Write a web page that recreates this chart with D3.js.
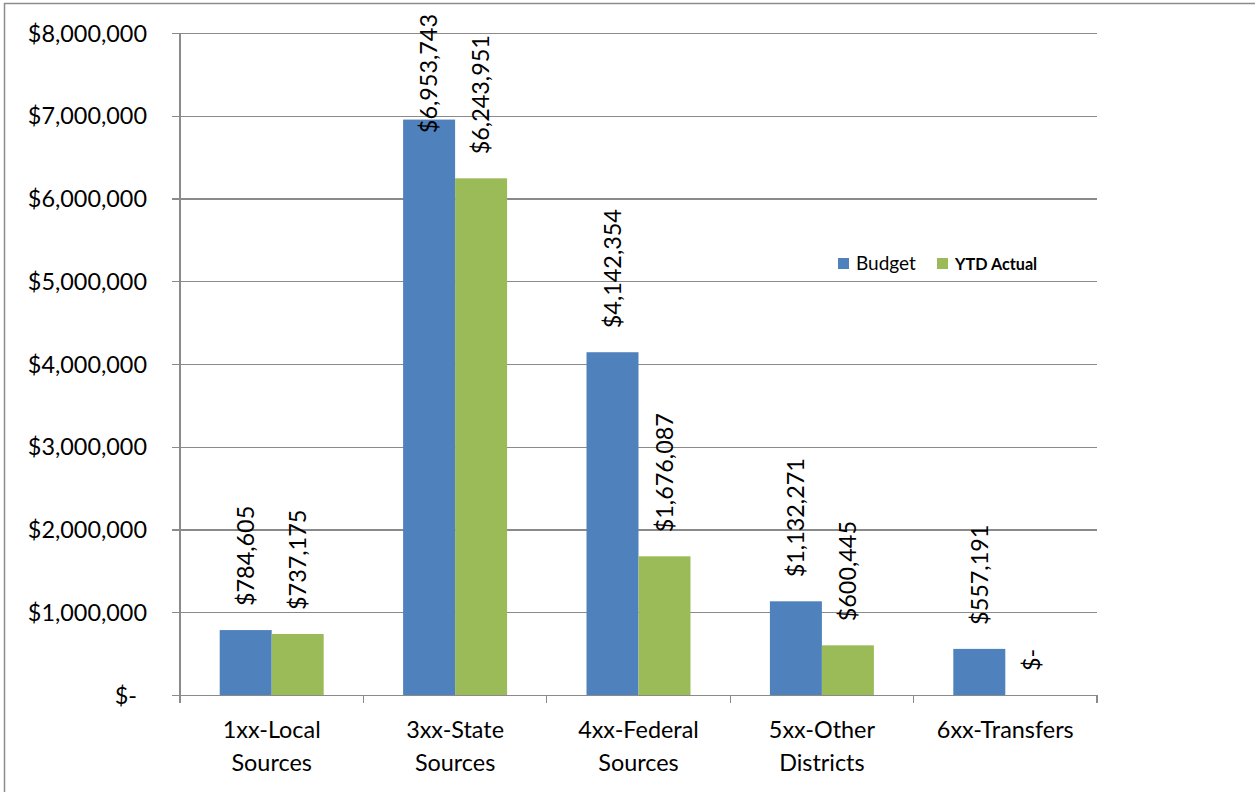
<!DOCTYPE html>
<html>
<head>
<meta charset="utf-8">
<script src="https://cdn.jsdelivr.net/npm/d3@7"></script>
<style>
  html, body { margin: 0; padding: 0; background: #fff; }
  svg { display: block; }
  text { font-family: Lato, "Open Sans", sans-serif; fill: #000; }
</style>
</head>
<body>
<svg id="chart" width="1255" height="792"></svg>
<script>
// Revenue by source: budget vs. year-to-date actual
const categories = [
  ["1xx-Local", "Sources"],
  ["3xx-State", "Sources"],
  ["4xx-Federal", "Sources"],
  ["5xx-Other", "Districts"],
  ["6xx-Transfers"]
];
const seriesNames = ["Budget", "YTD Actual"];
const budget = [784605, 6953743, 4142354, 1132271, 557191];
const ytdActual = [737175, 6243951, 1676087, 600445, 0];
const yTicks = [0, 1000000, 2000000, 3000000, 4000000, 5000000, 6000000, 7000000, 8000000];

const colors = ["#4F81BD", "#9BBB59"];
const gridColor = "#8a8a8a";

const svg = d3.select("#chart");
const W = 1255, H = 792;
const plot = { left: 180, right: 1097, top: 33, bottom: 695 };

// outer chart frame
svg.append("rect")
  .attr("x", 4.5).attr("y", 3.5)
  .attr("width", W + 20).attr("height", H + 20)
  .attr("fill", "none").attr("stroke", "#8c8c8c").attr("stroke-width", 1.5);

const idx = d3.range(categories.length);
const x0 = d3.scaleBand()
  .domain(idx)
  .range([plot.left, plot.right])
  .paddingInner(0.433)
  .paddingOuter(0.2165);
const x1 = d3.scaleBand()
  .domain(seriesNames)
  .range([0, x0.bandwidth()]);
const y = d3.scaleLinear()
  .domain([0, 8000000])
  .range([plot.bottom, plot.top]);

const fmt = v => v === 0 ? "$-" : "$" + d3.format(",")(v);

// horizontal gridlines + y-axis tick labels
const yAxis = d3.axisLeft(y)
  .tickValues(yTicks)
  .tickSize(-(plot.right - plot.left))
  .tickPadding(0)
  .tickFormat(fmt);
const gy = svg.append("g")
  .attr("transform", `translate(${plot.left},0)`)
  .call(yAxis);
gy.select(".domain").remove();
gy.selectAll(".tick line")
  .attr("x1", -8)
  .attr("stroke", gridColor)
  .attr("stroke-width", 1.3)
  .attr("shape-rendering", "crispEdges");
gy.selectAll(".tick text")
  .attr("x", d => d === 0 ? -43 : -33)
  .attr("dy", "0.35em")
  .style("font-family", "Lato, sans-serif")
  .style("font-size", "23.4px")
  .attr("fill", "#000");

// vertical y axis line
svg.append("line")
  .attr("x1", plot.left).attr("x2", plot.left)
  .attr("y1", plot.top).attr("y2", plot.bottom)
  .attr("stroke", gridColor).attr("stroke-width", 1.3)
  .attr("shape-rendering", "crispEdges");

// category tick marks below the baseline
const step = x0.step();
svg.append("g").selectAll("line")
  .data(d3.range(categories.length + 1))
  .join("line")
  .attr("x1", i => plot.left + i * step)
  .attr("x2", i => plot.left + i * step)
  .attr("y1", plot.bottom)
  .attr("y2", plot.bottom + 8)
  .attr("stroke", gridColor).attr("stroke-width", 1.3)
  .attr("shape-rendering", "crispEdges");

// category labels
const catG = svg.append("g");
categories.forEach((lines, i) => {
  const t = catG.append("text")
    .attr("x", x0(i) + x0.bandwidth() / 2)
    .attr("y", 738)
    .attr("text-anchor", "middle")
    .style("font-size", "23.4px");
  lines.forEach((ln, k) => {
    t.append("tspan")
      .attr("x", x0(i) + x0.bandwidth() / 2)
      .attr("y", 738 + k * 33)
      .text(ln);
  });
});

// bars and value labels
const rows = idx.map(i => ({ i, values: [budget[i], ytdActual[i]] }));
const groups = svg.append("g").selectAll("g")
  .data(rows)
  .join("g")
  .attr("transform", d => `translate(${x0(d.i)},0)`);

groups.selectAll("rect")
  .data(d => d.values.map((v, s) => ({ v, s })))
  .join("rect")
  .attr("x", d => x1(seriesNames[d.s]))
  .attr("width", x1.bandwidth())
  .attr("y", d => y(d.v))
  .attr("height", d => plot.bottom - y(d.v))
  .attr("fill", d => colors[d.s]);

groups.selectAll("text.val")
  .data(d => d.values.map((v, s) => ({ v, s })))
  .join("text")
  .attr("class", "val")
  .style("font-size", "23.4px")
  .attr("text-anchor", "start")
  .attr("dy", "0.35em")
  .text(d => fmt(d.v))
  .each(function (d) {
    const len = this.getComputedTextLength();
    const cx = x1(seriesNames[d.s]) + x1.bandwidth() / 2;
    const start = Math.max(y(d.v) - 24, 14 + len);
    d3.select(this)
      .attr("transform", `translate(${cx},${start}) rotate(-90)`);
  });

// legend
const legend = svg.append("g");
const legendItems = [
  { name: "Budget", x: 838, bold: false },
  { name: "YTD Actual", x: 937, bold: true }
];
legendItems.forEach((it, s) => {
  legend.append("rect")
    .attr("x", it.x).attr("y", 258)
    .attr("width", 11).attr("height", 11)
    .attr("fill", colors[s]);
  legend.append("text")
    .attr("x", it.x + 18).attr("y", 270)
    .style("font-size", it.bold ? "16.2px" : "19px")
    .style("font-weight", it.bold ? "bold" : "normal")
    .text(it.name);
});
</script>
</body>
</html>
